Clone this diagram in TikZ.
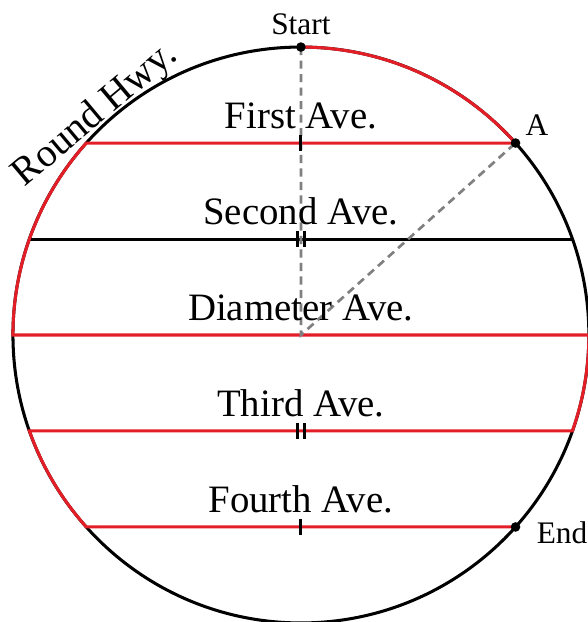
\documentclass[tikz,border=0pt]{standalone}
\usepackage{fontspec}
\setmainfont{Liberation Serif}
\definecolor{hwyred}{RGB}{228,30,38}

\begin{document}
\begin{tikzpicture}[scale=1,
    road/.style={line width=0.9pt},
    walk/.style={gray, line width=0.8pt, dash pattern=on 2.4pt off 1.6pt},
    avename/.style={anchor=base, font=\fontsize{11.5}{13}\selectfont, inner sep=0pt},
    spot/.style={font=\fontsize{9.3}{11}\selectfont, inner sep=0pt}]

    % Fix the margins of the picture
    \useasboundingbox (-3.135,-2.99) rectangle (2.99,3.49);

    % Centre, start and the chord ends on the highway
    \coordinate (O) at (0,0);
    \coordinate (Start) at (90:3);
    \coordinate (A) at (41.81:3);
    \coordinate (FirstW) at (138.19:3);
    \coordinate (SecondW) at (160.53:3);
    \coordinate (SecondE) at (19.47:3);
    \coordinate (DiamW) at (180:3);
    \coordinate (DiamE) at (0:3);
    \coordinate (ThirdE) at (-19.47:3);
    \coordinate (ThirdW) at (199.47:3);
    \coordinate (FourthW) at (221.81:3);
    \coordinate (End) at (-41.81:3);

    % Round Hwy.
    \draw[road] (O) circle (3);

    % Second Ave. is not on the route
    \draw[road] (SecondW) -- (SecondE);

    % The route, in red
    \draw[road, hwyred] (Start) arc (90:41.81:3) -- (FirstW)
        arc (138.19:180:3) -- (DiamE)
        arc (360:340.53:3) -- (ThirdW)
        arc (199.47:221.81:3) -- (End);

    % Dashed radii
    \draw[walk] (Start) -- (O) -- (A);

    % Tick marks at the middle of each avenue
    \foreach \y in {2,-2}
        \draw[road] (0,\y-0.08) -- (0,\y+0.08);
    \foreach \y in {1,-1} {
        \draw[road] (-0.035,\y-0.08) -- (-0.035,\y+0.08);
        \draw[road] (0.035,\y-0.08) -- (0.035,\y+0.08);
    }

    % Dots
    \fill (Start) circle (0.05);
    \fill (A) circle (0.05);
    \fill (End) circle (0.05);

    % Avenue names
    \node[avename] (first) at (0,2.155) {First Ave.};
    \node[avename] (second) at (0,1.155) {Second Ave.};
    \node[avename] (diam) at (0,0.155) {Diameter Ave.};
    \node[avename] (third) at (0,-0.845) {Third Ave.};
    \node[avename] (fourth) at (0,-1.845) {Fourth Ave.};

    % Point labels
    \node[spot, anchor=base] (startlbl) at (0,3.135) {Start};
    \node[spot, anchor=base] (albl) at (2.46,2.08) {A};
    \node[spot, anchor=base west] (endlbl) at (2.45,-2.17) {End};

    % Highway name
    \node[avename, rotate=40, font=\fontsize{11.8}{13}\selectfont] (hwy) at (-2.075,2.21) {Round Hwy.};

\end{tikzpicture}
\end{document}
